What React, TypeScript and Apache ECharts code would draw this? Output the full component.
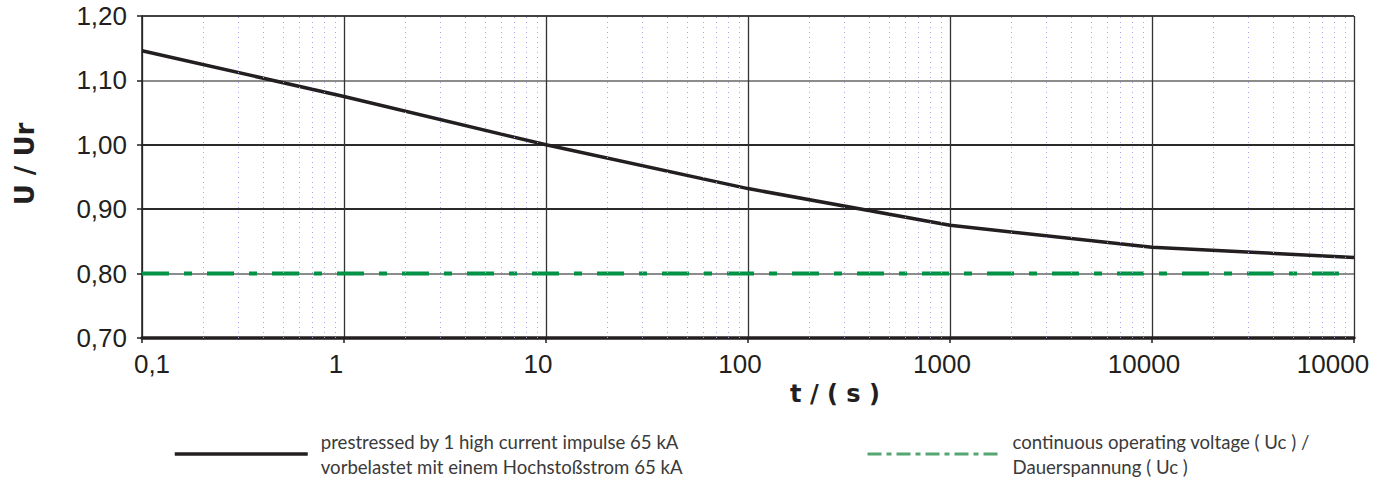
import React, { useEffect, useRef } from "react";
import * as echarts from "echarts";

// ---- data ----
const timeSeconds = [0.1, 1, 10, 100, 1000, 10000, 100000];
const voltageRatio = [1.146, 1.075, 1.0, 0.932, 0.875, 0.841, 0.825];
const ucLevel = 0.8;
const ucRange = [0.1, 100000];
const xTickLabels = ["0,1", "1", "10", "100", "1000", "10000", "10000"];
const decades = [0.1, 1, 10, 100, 1000, 10000];
const minorMultipliers = [2, 3, 4, 5, 6, 7, 8, 9];
const seriesNames = [
  "prestressed by 1 high current impulse 65 kA\nvorbelastet mit einem Hochstoßstrom 65 kA",
  "continuous operating voltage ( Uc ) /\nDauerspannung ( Uc )",
];
const xAxisName = "t / ( s )";
const yAxisName = "U / Ur";

const TICK_FONT = "'Liberation Sans', Arial, sans-serif";
const LEGEND_FONT = "Lato, 'Open Sans', sans-serif";

export default function App() {
  const ref = useRef<HTMLDivElement>(null);

  useEffect(() => {
    document.body.style.margin = "0";
    if (!ref.current) return;
    const chart = echarts.init(ref.current, undefined, { renderer: "svg" });

    const minorTicks = decades.flatMap((d) =>
      minorMultipliers.map((m) => +(m * d).toPrecision(6))
    );

    const tickStyle = { fontFamily: TICK_FONT, fontSize: 26, color: "#231f20" };

    chart.setOption({
      animation: false,
      backgroundColor: "#ffffff",
      grid: { left: 142, right: 26, top: 16, bottom: 141, containLabel: false },
      xAxis: {
        type: "log",
        logBase: 10,
        min: 0.1,
        max: 100000,
        name: xAxisName,
        nameLocation: "middle",
        nameGap: 44,
        nameTextStyle: {
          fontFamily: "'DejaVu Sans', sans-serif",
          fontWeight: "bold",
          fontSize: 24,
          color: "#231f20",
          padding: [0, 0, 0, 174],
        },
        axisLine: { lineStyle: { color: "#231f20", width: 3.5 } },
        axisTick: { show: true, length: 5, lineStyle: { color: "#231f20", width: 1.5 } },
        axisLabel: {
          margin: 13,
          showMinLabel: true,
          showMaxLabel: true,
          ...tickStyle,
          formatter: (v: number) => {
            const i = Math.round(Math.log10(v)) + 1;
            const t = xTickLabels[i] ?? String(v);
            if (i === 0) return `{a|${t}}`;
            if (i === xTickLabels.length - 1) return `{z|${t}}`;
            return `{m|${t}}`;
          },
          rich: {
            a: { ...tickStyle, padding: [0, 0, 0, 20] },
            m: { ...tickStyle, padding: [0, 16, 0, 0] },
            z: { ...tickStyle, padding: [0, 42, 0, 0] },
          },
        },
        splitLine: { show: true, lineStyle: { color: "#333333", width: 1.3 } },
        minorTick: { show: false },
        minorSplitLine: { show: false },
      },
      yAxis: {
        type: "value",
        min: 0.7,
        max: 1.2,
        interval: 0.1,
        name: yAxisName,
        nameLocation: "middle",
        nameGap: 104,
        nameRotate: 90,
        nameTextStyle: {
          fontFamily: "'DejaVu Sans', sans-serif",
          fontWeight: "bold",
          fontSize: 26,
          color: "#231f20",
          padding: [0, 0, 0, 26],
        },
        axisLine: { show: true, lineStyle: { color: "#231f20", width: 1.5 } },
        axisTick: { show: true, length: 5, lineStyle: { color: "#231f20", width: 1.5 } },
        axisLabel: {
          margin: 15,
          ...tickStyle,
          formatter: (v: number) => v.toFixed(2).replace(".", ","),
        },
        splitLine: {
          show: true,
          lineStyle: {
            color: ["#222222", "#8c8c8c", "#2a2a2a", "#2a2a2a", "#8c8c8c", "#444444"],
            width: 1.8,
          },
        },
      },
      legend: [
        {
          data: [seriesNames[0]],
          left: 173,
          top: 429,
          padding: 0,
          itemWidth: 133,
          itemHeight: 14,
          selectedMode: false,
          itemStyle: { opacity: 0 },
          lineStyle: { width: 3.5, type: "solid", color: "#231f20" },
          textStyle: {
            fontFamily: LEGEND_FONT,
            fontSize: 18.6,
            lineHeight: 25,
            color: "#3a3a3a",
            padding: [0, 0, 0, 8],
          },
        },
        {
          data: [seriesNames[1]],
          left: 866,
          top: 429,
          padding: 0,
          itemWidth: 134,
          itemHeight: 14,
          selectedMode: false,
          itemStyle: { opacity: 0 },
          lineStyle: { width: 3, type: [14, 5, 5, 5], color: "#55a672" },
          textStyle: {
            fontFamily: LEGEND_FONT,
            fontSize: 18.6,
            lineHeight: 25,
            color: "#3a3a3a",
            padding: [0, 0, 0, 6],
          },
        },
      ],
      series: [
        {
          name: "minor-grid",
          type: "line",
          data: [[0.1, 0.7]],
          symbol: "none",
          lineStyle: { opacity: 0 },
          silent: true,
          z: 1,
          markLine: {
            silent: true,
            symbol: ["none", "none"],
            label: { show: false },
            lineStyle: { type: [1, 4], color: "#a4a4e6", width: 1 },
            data: minorTicks.map((v) => ({ xAxis: v })),
          },
        },
        {
          name: seriesNames[1],
          type: "line",
          data: ucRange.map((t) => [t, ucLevel]),
          symbol: "none",
          z: 3,
          itemStyle: { color: "#009245" },
          lineStyle: { color: "#009245", width: 4, type: [27, 15, 8, 15] },
        },
        {
          name: seriesNames[0],
          type: "line",
          data: timeSeconds.map((t, i) => [t, voltageRatio[i]]),
          symbol: "none",
          z: 4,
          itemStyle: { color: "#231f20" },
          lineStyle: { color: "#231f20", width: 3.5 },
        },
      ],
    });

    return () => chart.dispose();
  }, []);

  return <div ref={ref} style={{ width: 1380, height: 479 }} />;
}
